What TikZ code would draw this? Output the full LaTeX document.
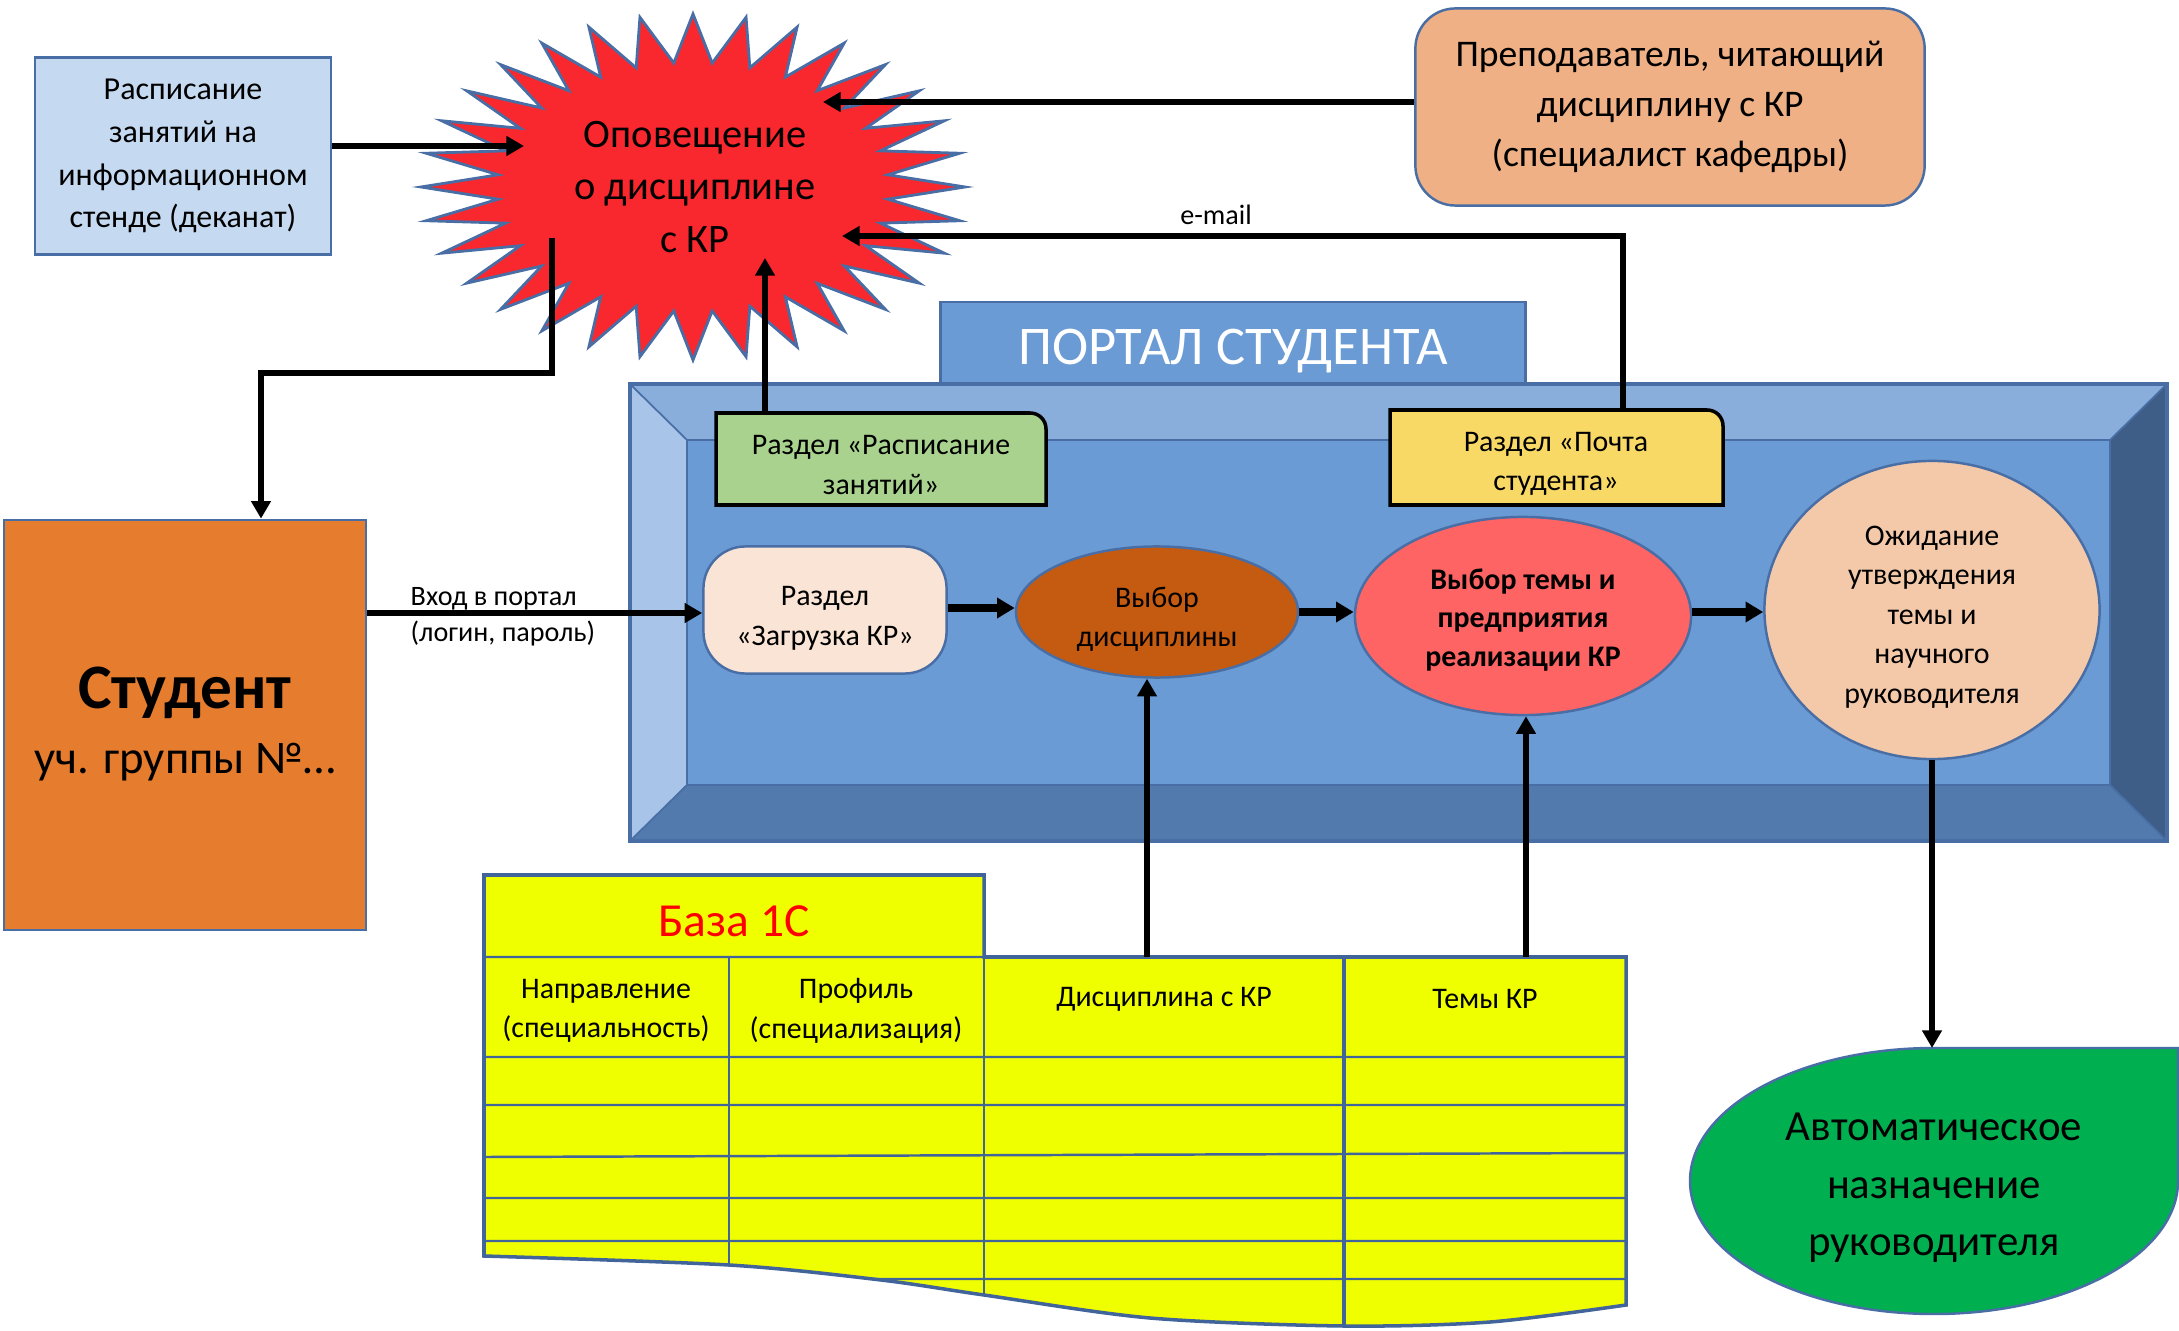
\documentclass[tikz,border=0pt]{standalone}
\usepackage{fontspec}
\setmainfont{Carlito}
\usetikzlibrary{shapes.geometric,arrows.meta}
\definecolor{edgeblue}{RGB}{72,110,165}
\definecolor{schedfill}{RGB}{197,217,240}
\definecolor{starfill}{RGB}{248,40,46}
\definecolor{teachfill}{RGB}{238,176,132}
\definecolor{studfill}{RGB}{230,125,46}
\definecolor{portmid}{RGB}{106,155,212}
\definecolor{porttop}{RGB}{138,174,220}
\definecolor{portleft}{RGB}{168,196,232}
\definecolor{portbot}{RGB}{83,122,172}
\definecolor{portright}{RGB}{62,93,135}
\definecolor{secgreen}{RGB}{168,210,142}
\definecolor{secyellow}{RGB}{248,217,102}
\definecolor{zagrfill}{RGB}{249,228,213}
\definecolor{vybfill}{RGB}{197,90,17}
\definecolor{temfill}{RGB}{255,100,100}
\definecolor{waitfill}{RGB}{244,201,169}
\definecolor{autofill}{RGB}{0,176,80}
\definecolor{tabfill}{RGB}{240,255,0}
\definecolor{gridc}{RGB}{65,100,155}
\begin{document}
\begin{tikzpicture}[x=0.01cm,y=-0.01cm,
  shapebox/.style={draw=edgeblue, line width=0.7pt, align=center, inner sep=0pt},
  plain/.style={align=center, inner sep=0pt},
  conn/.style={line width=1.6pt, -{Triangle[length=5pt,width=5.4pt]}},
  chainarrow/.style={line width=2pt, -{Triangle[length=5pt,width=5.6pt]}},
  txtsmall/.style={font=\fontsize{8.5}{11.2}\selectfont},
  txtbold/.style={font=\fontsize{8.5}{11}\selectfont\bfseries},
  gridline/.style={draw=gridc, line width=0.7pt},
]
\useasboundingbox (0,0) rectangle (2179,1331);

% ---------- top left box
\node[shapebox, fill=schedfill, minimum width=2.96cm, minimum height=1.97cm,
      font=\fontsize{9.1}{12.2}\selectfont] (sched) at (183,156) {Расписание\\занятий на\\информационном\\стенде (деканат)};

% ---------- star
\draw[draw=edgeblue, line width=0.8pt, fill=starfill]
  plot[samples=65, domain=0:64, variable=\t]
  ({693+272*(1-0.28*mod(round(\t),2))*cos(\t*5.625)},
   {187+173*(1-0.28*mod(round(\t),2))*sin(\t*5.625)}) -- cycle;
\node[plain, font=\fontsize{11.5}{15}\selectfont] (star) at (695,187) {Оповещение\\о дисциплине\\с КР};
\coordinate (starL) at (524,146);
\coordinate (starTR) at (823,102);
\coordinate (starE) at (842,236);
\coordinate (starB) at (765,258);
\coordinate (starS) at (552,238);

% ---------- teacher
\node[shapebox, fill=teachfill, rounded corners=0.4cm, minimum width=5.09cm, minimum height=1.97cm,
      font=\fontsize{10.7}{14.2}\selectfont] (teach) at (1670,107) {Преподаватель, читающий\\дисциплину с КР\\(специалист кафедры)};

% ---------- student
\node[shapebox, fill=studfill, minimum width=3.62cm, minimum height=4.10cm] (stud) at (185,725) {};
\node[plain] (studT) at (185,724)
  {\fontsize{18}{17}\selectfont\bfseries Студент\\[6.7pt]\fontsize{13.3}{17}\selectfont\mdseries уч. группы №…};

% ---------- portal
\node[shapebox, fill=portmid, minimum width=5.85cm, minimum height=0.82cm,
      text=white, font=\fontsize{15.5}{17}\selectfont, text height=0.42cm, text depth=0pt] (ptitle) at (1233,343) {ПОРТАЛ СТУДЕНТА};
\fill[porttop] (630,384) -- (2167,384) -- (2110,440) -- (687,440) -- cycle;
\fill[portleft] (630,384) -- (687,440) -- (687,785) -- (630,841) -- cycle;
\fill[portright] (2167,384) -- (2167,841) -- (2110,785) -- (2110,440) -- cycle;
\fill[portbot] (630,841) -- (687,785) -- (2110,785) -- (2167,841) -- cycle;
\fill[portmid] (687,440) rectangle (2110,785);
\draw[edgeblue, line width=0.5pt] (630,384) -- (687,440) (2167,384) -- (2110,440)
  (630,841) -- (687,785) (2167,841) -- (2110,785) (687,440) rectangle (2110,785);
\draw[edgeblue, line width=1pt] (630,384) rectangle (2167,841);

% ---------- section boxes
\draw[fill=secgreen, line width=1pt] (716,505) -- (716,413) -- (1030,413) .. controls (1039,413) and (1046,420) .. (1046,429) -- (1046,505) -- cycle;
\node[plain, txtsmall] (rsch) at (881,465) {Раздел «Расписание\\занятий»};
\coordinate (rschTop) at (765,413);
\draw[fill=secyellow, line width=1pt] (1390,505) -- (1390,410) -- (1707,410) .. controls (1716,410) and (1723,417) .. (1723,426) -- (1723,505) -- cycle;
\node[plain, txtsmall] (mail) at (1556,464) {Раздел «Почта\\студента»};
\coordinate (mailTop) at (1623,410);

% ---------- inner chain
\node[shapebox, fill=zagrfill, rounded corners=0.42cm, minimum width=2.43cm, minimum height=1.27cm] (zagr) at (825,610) {};
\node[plain, font=\fontsize{8.5}{11.4}\selectfont] (zagrT) at (825,618) {Раздел\\«Загрузка КР»};
\node[shapebox, ellipse, fill=vybfill, minimum width=2.82cm, minimum height=1.31cm] (vyb) at (1157,612) {};
\node[plain, txtsmall] (vybT) at (1157,619) {Выбор\\дисциплины};
\node[shapebox, ellipse, fill=temfill, minimum width=3.36cm, minimum height=1.98cm] (tem) at (1523,616) {};
\node[plain, txtbold] (temT) at (1523,620) {Выбор темы и\\предприятия\\реализации КР};
\node[shapebox, ellipse, fill=waitfill, minimum width=3.35cm, minimum height=2.98cm] (wait) at (1932,610) {};
\node[plain, txtsmall] (waitT) at (1932,617) {Ожидание\\утверждения\\темы и\\научного\\руководителя};

% ---------- automatic assignment
\draw[draw=edgeblue, line width=0.7pt, fill=autofill] (1934,1048) -- (2178,1048) -- (2178,1181)
  .. controls (2178,1254.5) and (2068.8,1314) .. (1934,1314)
  .. controls (1799.2,1314) and (1690,1254.5) .. (1690,1181)
  .. controls (1690,1107.5) and (1799.2,1048) .. (1934,1048) -- cycle;
\coordinate (autoTop) at (1934,1048);
\node[plain, font=\fontsize{12.2}{16.3}\selectfont] (auto) at (1934,1188) {Автоматическое\\назначение\\руководителя};

% ---------- table
\def\tabshape{(484,875) -- (984,875) -- (984,957) -- (1626,957) -- (1626,1305)
  -- plot[smooth] coordinates {(1626,1305) (1490,1322) (1344,1326) (1150,1318) (984,1295) (881,1280) (729,1265) (484,1256)} -- cycle}
\begin{scope}
  \clip \tabshape;
  \fill[tabfill] (470,860) rectangle (1640,1340);
  \draw[gridline] (484,957) -- (1626,957) (484,1057) -- (1626,1057) (484,1105) -- (1626,1105)
    (484,1157) -- (1626,1153) (484,1198) -- (1626,1198) (484,1241) -- (1626,1241) (484,1279) -- (1626,1279);
  \draw[gridline] (729,957) -- (729,1340) (984,875) -- (984,1340) (1626,957) -- (1626,1340);
  \draw[gridline, line width=1.2pt] (1344,957) -- (1344,1340);
\end{scope}
\draw[gridline, line width=1pt] \tabshape;
\node[plain, text=red, font=\fontsize{13.5}{16}\selectfont] (base) at (734,921) {База 1С};
\node[plain, txtsmall] (hdir) at (606,1011) {Направление\\(специальность)};
\node[plain, txtsmall] (hprof) at (856,1011) {Профиль\\(специализация)};
\node[plain, txtsmall] (hdis) at (1164,999) {Дисциплина с КР};
\node[plain, txtsmall] (htem) at (1485,999) {Темы КР};
\coordinate (disTop) at (1147,957);
\coordinate (temTop) at (1526,957);

% ---------- labels
\node[plain, font=\fontsize{8}{10}\selectfont] (emaillbl) at (1216,215) {e-mail};
\node[plain, anchor=west, align=left, font=\fontsize{8}{10.2}\selectfont] (loginlbl) at (410,617) {Вход в портал\\(логин, пароль)};

% ---------- connectors
\draw[conn] (sched.east |- starL) -- (starL);
\draw[conn] (teach.west |- starTR) -- (starTR);
\coordinate (mailTurn) at (1623,236);
\draw[conn] (mailTop) -- (mailTurn) -- (starE);
\draw[conn] (rschTop) -- (starB);
\coordinate (studBend) at (261,373);
\draw[conn] (starS) |- (studBend) -- (stud.north -| studBend);
\draw[conn] (stud.east |- 0,613) -- (zagr.west |- 0,613);
\draw[chainarrow] (zagr.east |- 0,608) -- (vyb.west |- 0,608);
\draw[chainarrow] (vyb.east) -- (tem.west |- vyb.east);
\draw[chainarrow] (tem.east |- 0,612) -- (wait.west |- 0,612);
\draw[conn] (disTop) -- (disTop |- vyb.south);
\draw[conn] (temTop) -- (temTop |- tem.south);
\draw[conn] (wait.south) -- (wait.south |- autoTop);
\end{tikzpicture}
\end{document}
